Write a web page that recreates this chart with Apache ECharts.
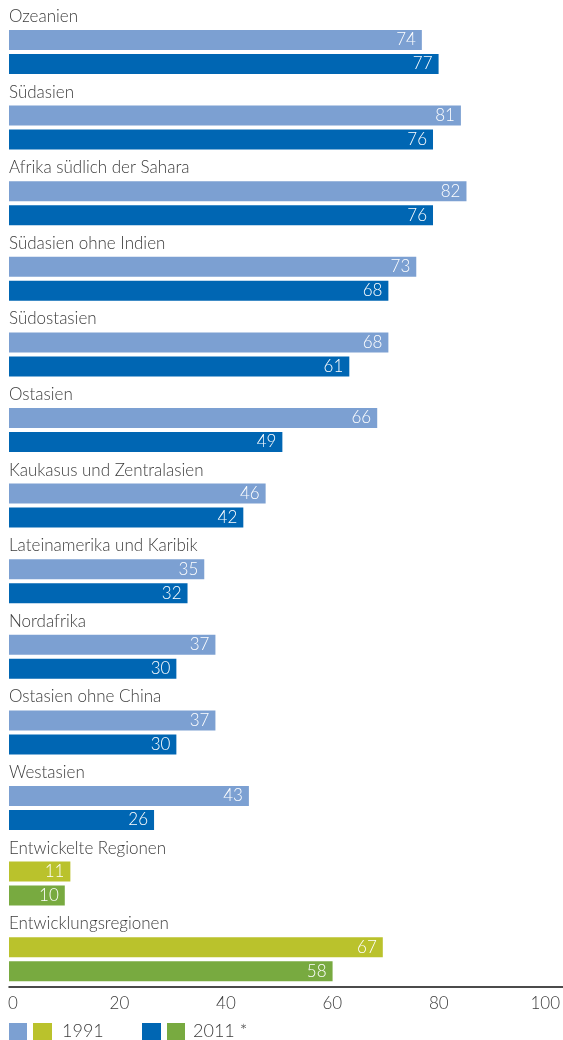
<!DOCTYPE html>
<html>
<head>
<meta charset="utf-8">
<style>
  html, body { margin: 0; padding: 0; background: #fff; }
  #chart { width: 563px; height: 1040px; }
</style>
<script src="https://cdn.jsdelivr.net/npm/echarts@6/dist/echarts.min.js"></script>
</head>
<body>
<div id="chart"></div>
<script>
// Regions, top to bottom
const regions = [
  'Ozeanien', 'Südasien', 'Afrika südlich der Sahara', 'Südasien ohne Indien',
  'Südostasien', 'Ostasien', 'Kaukasus und Zentralasien', 'Lateinamerika und Karibik',
  'Nordafrika', 'Ostasien ohne China', 'Westasien', 'Entwickelte Regionen', 'Entwicklungsregionen'
];
// Values per region
const values1991 = [74, 81, 82, 73, 68, 66, 46, 35, 37, 37, 43, 11, 67];
const values2011 = [77, 76, 76, 68, 61, 49, 42, 32, 30, 30, 26, 10, 58];
// The last two rows are aggregates and use the green palette
const aggregateRows = ['Entwickelte Regionen', 'Entwicklungsregionen'];
const xTicks = [0, 20, 40, 60, 80, 100];
const legendLabels = ['1991', '2011 *'];

const FONT = 'Lato, "Noto Sans", sans-serif';
const WEIGHT = 300;
const TEXT = '#3c3c3c';
const C91 = '#7ca0d2', C11 = '#0066b3';
const C91g = '#bac22c', C11g = '#78aa40';

const isAgg = r => aggregateRows.includes(r);
const pick = (vals, agg) => regions.map((r, i) => (isAgg(r) === agg ? vals[i] : '-'));

const valueLabel = {
  show: true, position: 'insideRight', distance: 6,
  color: '#fff', fontFamily: FONT, fontWeight: WEIGHT, fontSize: 17
};

function barSeries(name, stack, data, color) {
  return {
    name, type: 'bar', stack, data,
    xAxisIndex: 0, yAxisIndex: 0,
    barWidth: 20, barGap: '20%',
    itemStyle: { color },
    label: valueLabel,
    emphasis: { disabled: true },
    animation: false
  };
}

const chart = echarts.init(document.getElementById('chart'), null, { renderer: 'canvas' });
chart.setOption({
  backgroundColor: '#fff',
  animation: false,
  grid: [
    { left: 9, right: 0, top: 14.2, bottom: 43, containLabel: false },
    { left: 13, right: 17, top: 14.2, bottom: 53, containLabel: false }
  ],
  xAxis: [
    {
      type: 'value', gridIndex: 0, min: 0, max: 99.3, offset: -10,
      axisLine: { show: true, lineStyle: { color: '#111', width: 1.5 } },
      axisTick: { show: false }, axisLabel: { show: false }, splitLine: { show: false }
    },
    {
      type: 'value', gridIndex: 1, min: 0, max: 100, interval: 20,
      axisLine: { show: false }, axisTick: { show: false }, splitLine: { show: false },
      axisLabel: {
        margin: 8, color: TEXT, fontFamily: FONT, fontWeight: WEIGHT, fontSize: 17,
        formatter: v => (xTicks.includes(v) ? String(v) : '')
      }
    }
  ],
  yAxis: [
    {
      type: 'category', gridIndex: 0, data: regions, inverse: true,
      axisLine: { show: false }, axisTick: { show: false }, splitLine: { show: false },
      axisLabel: {
        inside: true, margin: 0, interval: 0,
        color: TEXT, fontFamily: FONT, fontWeight: WEIGHT, fontSize: 17, lineHeight: 17,
        verticalAlign: 'bottom', padding: [0, 0, 27, 0]
      }
    },
    {
      type: 'value', gridIndex: 1, min: 0, max: 1, show: false
    }
  ],
  series: [
    barSeries('1991', 'a', pick(values1991, false), C91),
    barSeries('1991 Aggregat', 'a', pick(values1991, true), C91g),
    barSeries('2011', 'b', pick(values2011, false), C11),
    barSeries('2011 Aggregat', 'b', pick(values2011, true), C11g)
  ],
  graphic: [
    { type: 'rect', left: 9, top: 1023, shape: { width: 18, height: 18 }, style: { fill: C91 } },
    { type: 'rect', left: 33, top: 1023, shape: { width: 19, height: 18 }, style: { fill: C91g } },
    { type: 'text', left: 62, top: 1022, style: { text: legendLabels[0], fill: TEXT, font: WEIGHT + ' 18px ' + FONT } },
    { type: 'rect', left: 142, top: 1023, shape: { width: 19, height: 18 }, style: { fill: C11 } },
    { type: 'rect', left: 167, top: 1023, shape: { width: 18, height: 18 }, style: { fill: C11g } },
    { type: 'text', left: 193, top: 1022, style: { text: legendLabels[1], fill: TEXT, font: WEIGHT + ' 18px ' + FONT } }
  ]
});
</script>
</body>
</html>
